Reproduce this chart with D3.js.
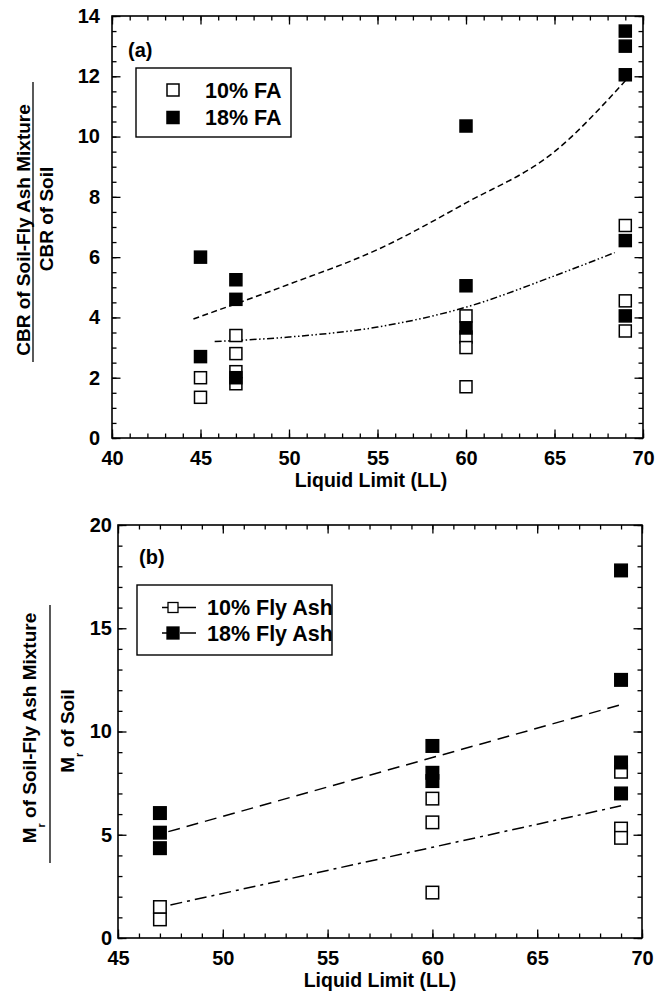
<!DOCTYPE html>
<html>
<head>
<meta charset="utf-8">
<script src="https://cdn.jsdelivr.net/npm/d3@7"></script>
<style>
body { margin: 0; background: #fff; }
svg text { font-family: "Liberation Sans", Arial, sans-serif; font-weight: bold; fill: #000; }
</style>
</head>
<body>
<div id="chart"></div>
<script>
// ---- data ----
// panel (a): CBR ratio vs liquid limit
const llA10 = [45, 45, 47, 47, 47, 47, 60, 60, 60, 60, 69, 69, 69];
const cbr10 = [2.0, 1.35, 3.4, 2.8, 2.2, 1.8, 4.05, 3.35, 3.0, 1.7, 7.05, 4.55, 3.55];
const llA18 = [45, 45, 47, 47, 47, 60, 60, 60, 69, 69, 69, 69, 69];
const cbr18 = [6.0, 2.7, 5.25, 4.6, 2.0, 10.35, 5.05, 3.65, 13.5, 13.0, 12.05, 6.55, 4.05];
// trend curves
const trendA18 = [[44.6, 3.95], [50, 5.1], [55, 6.25], [60, 7.8], [65, 9.5], [69, 11.85]];
const trendA10 = [[45.8, 3.2], [50, 3.35], [55, 3.68], [60, 4.34], [65, 5.38], [68.4, 6.15]];

// panel (b): resilient modulus ratio vs liquid limit
const llB10 = [47, 47, 60, 60, 60, 69, 69, 69];
const mr10 = [1.5, 0.9, 6.75, 5.6, 2.2, 8.05, 5.3, 4.85];
const llB18 = [47, 47, 47, 60, 60, 60, 69, 69, 69, 69];
const mr18 = [6.05, 5.1, 4.35, 9.3, 8.0, 7.6, 17.8, 12.5, 8.5, 7.0];
const trendB18 = [[47.4, 5.15], [69, 11.3]];
const trendB10 = [[47.5, 1.6], [69, 6.4]];

// ticks
const xTicksA = [40, 45, 50, 55, 60, 65, 70];
const yTicksA = [0, 2, 4, 6, 8, 10, 12, 14];
const xTicksB = [45, 50, 55, 60, 65, 70];
const yTicksB = [0, 5, 10, 15, 20];

const legendA = ["10% FA", "18% FA"];
const legendB = ["10% Fly Ash", "18% Fly Ash"];

const svg = d3.select("#chart")
	.append("svg")
		.attr("width", 672)
		.attr("height", 998);

function pairs(xs, ys) {
	return xs.map(function(d, i) { return [d, ys[i]]; });
}

// frame with inward ticks on all four sides
function drawFrame(x, y, xMajor, xMinorStep, yMajor, yMinorStep, yPad) {
	const [x0, x1] = x.range();
	const [y0, y1] = y.range();
	const xd = x.domain(), yd = y.domain();
	const xMinor = d3.range(xd[0], xd[1] + 0.001, xMinorStep);
	const yMinor = d3.range(yd[0], yd[1] + 0.001, yMinorStep);

	function addAxis(axisFn, scale, vals, size, tr, labelled, pad) {
		const ax = svg.append("g")
			.attr("transform", tr)
			.call(axisFn(scale).tickValues(vals).tickSizeInner(-size).tickSizeOuter(0)
				.tickPadding(pad || 0).tickFormat(labelled ? d3.format("d") : ""));
		ax.select(".domain").remove();
		ax.selectAll("line").attr("stroke", "#000").attr("stroke-width", 1.3);
		ax.selectAll("text").style("font-size", "20px");
		return ax;
	}

	addAxis(d3.axisBottom, x, xMinor, 4.5, "translate(0," + y0 + ")", false);
	addAxis(d3.axisBottom, x, xMajor, 8.5, "translate(0," + y0 + ")", true, 13);
	addAxis(d3.axisTop, x, xMinor, 4.5, "translate(0," + y1 + ")", false);
	addAxis(d3.axisTop, x, xMajor, 8.5, "translate(0," + y1 + ")", false);
	addAxis(d3.axisLeft, y, yMinor, 4.5, "translate(" + x0 + ",0)", false);
	addAxis(d3.axisLeft, y, yMajor, 8.5, "translate(" + x0 + ",0)", true, yPad);
	addAxis(d3.axisRight, y, yMinor, 4.5, "translate(" + x1 + ",0)", false);
	addAxis(d3.axisRight, y, yMajor, 8.5, "translate(" + x1 + ",0)", false);

	svg.append("rect")
		.attr("x", x0).attr("y", y1)
		.attr("width", x1 - x0).attr("height", y0 - y1)
		.attr("fill", "none").attr("stroke", "#000").attr("stroke-width", 1.6);
}

function drawTrend(x, y, pts, dash) {
	svg.append("path")
		.datum(pts)
		.attr("fill", "none")
		.attr("stroke", "#000")
		.attr("stroke-width", 1.5)
		.attr("stroke-dasharray", dash)
		.attr("d", d3.line()
			.x(function(d) { return x(d[0]); })
			.y(function(d) { return y(d[1]); })
			.curve(d3.curveMonotoneX));
}

function drawSquares(x, y, pts, filled, size) {
	svg.append("g")
		.selectAll("rect")
		.data(pts)
		.enter()
		.append("rect")
			.attr("x", function(d) { return x(d[0]) - size / 2; })
			.attr("y", function(d) { return y(d[1]) - size / 2; })
			.attr("width", size)
			.attr("height", size)
			.attr("fill", filled ? "#000" : "#fff")
			.attr("stroke", "#000")
			.attr("stroke-width", 1.5);
}

// ================= panel (a) =================
const xA = d3.scaleLinear().domain([40, 70]).range([112, 643]);
const yA = d3.scaleLinear().domain([0, 14]).range([438, 16]);

drawFrame(xA, yA, xTicksA, 1, yTicksA, 0.5, 12);
drawTrend(xA, yA, trendA18, "6,3.5");
drawTrend(xA, yA, trendA10, "7,2.5,1.5,2.5,1.5,2.5");
drawSquares(xA, yA, pairs(llA10, cbr10), false, 12);
drawSquares(xA, yA, pairs(llA18, cbr18), true, 12);

svg.append("text").attr("x", 128).attr("y", 57).style("font-size", "20px").text("(a)");

// legend (a)
svg.append("rect")
	.attr("x", 136).attr("y", 68).attr("width", 155).attr("height", 69)
	.attr("fill", "#fff").attr("stroke", "#000").attr("stroke-width", 1.4);
legendA.forEach(function(label, i) {
	const cy = 90 + i * 27.5;
	svg.append("rect")
		.attr("x", 173 - 6).attr("y", cy - 6).attr("width", 12).attr("height", 12)
		.attr("fill", i ? "#000" : "#fff").attr("stroke", "#000").attr("stroke-width", 1.5);
	svg.append("text").attr("x", 205).attr("y", cy + 7.5)
		.style("font-size", "21.5px").text(label);
});

svg.append("text")
	.attr("x", 371).attr("y", 487)
	.attr("text-anchor", "middle")
	.style("font-size", "19.5px")
	.text("Liquid Limit (LL)");

// y label (a) as a fraction
svg.append("text")
	.attr("transform", "translate(30,230) rotate(-90)")
	.attr("text-anchor", "middle")
	.style("font-size", "19px")
	.text("CBR of Soil-Fly Ash Mixture");
svg.append("line")
	.attr("x1", 33).attr("x2", 33).attr("y1", 82).attr("y2", 362)
	.attr("stroke", "#000").attr("stroke-width", 1.3);
svg.append("text")
	.attr("transform", "translate(53,219) rotate(-90)")
	.attr("text-anchor", "middle")
	.style("font-size", "19px")
	.text("CBR of Soil");

// ================= panel (b) =================
const xB = d3.scaleLinear().domain([45, 70]).range([118, 642]);
const yB = d3.scaleLinear().domain([0, 20]).range([938, 525]);

drawFrame(xB, yB, xTicksB, 1, yTicksB, 1, 6);
drawTrend(xB, yB, trendB18, "12,7");
drawTrend(xB, yB, trendB10, "12,5,3,5");
drawSquares(xB, yB, pairs(llB10, mr10), false, 12.5);
drawSquares(xB, yB, pairs(llB18, mr18), true, 12.5);

svg.append("text").attr("x", 139).attr("y", 564).style("font-size", "20px").text("(b)");

// legend (b)
svg.append("rect")
	.attr("x", 137).attr("y", 585).attr("width", 195).attr("height", 70)
	.attr("fill", "#fff").attr("stroke", "#000").attr("stroke-width", 1.4);
legendB.forEach(function(label, i) {
	const cy = 607.5 + i * 25.5;
	svg.append("line")
		.attr("x1", 162).attr("x2", 196).attr("y1", cy).attr("y2", cy)
		.attr("stroke", "#000").attr("stroke-width", 1.3)
		.attr("stroke-dasharray", i ? "16,2,16" : null);
	const s = i ? 12 : 10;
	svg.append("rect")
		.attr("x", 173 - s / 2).attr("y", cy - s / 2).attr("width", s).attr("height", s)
		.attr("fill", i ? "#000" : "#fff").attr("stroke", "#000").attr("stroke-width", 1.3);
	svg.append("text").attr("x", 207).attr("y", cy + 7.5)
		.style("font-size", "21.5px").text(label);
});

svg.append("text")
	.attr("x", 380).attr("y", 987)
	.attr("text-anchor", "middle")
	.style("font-size", "19.5px")
	.text("Liquid Limit (LL)");

// y label (b): M_r fraction
const numB = svg.append("text")
	.attr("transform", "translate(36,728) rotate(-90)")
	.attr("text-anchor", "middle")
	.style("font-size", "19px");
numB.append("tspan").text("M");
numB.append("tspan").attr("dy", 9).style("font-size", "11px").text("r");
numB.append("tspan").attr("dy", -9).text(" of Soil-Fly Ash Mixture");
svg.append("line")
	.attr("x1", 50).attr("x2", 50).attr("y1", 605).attr("y2", 863)
	.attr("stroke", "#000").attr("stroke-width", 1.3);
const denB = svg.append("text")
	.attr("transform", "translate(74,731) rotate(-90)")
	.attr("text-anchor", "middle")
	.style("font-size", "19px");
denB.append("tspan").text("M");
denB.append("tspan").attr("dy", 9).style("font-size", "11px").text("r");
denB.append("tspan").attr("dy", -9).text(" of Soil");
</script>
</body>
</html>
